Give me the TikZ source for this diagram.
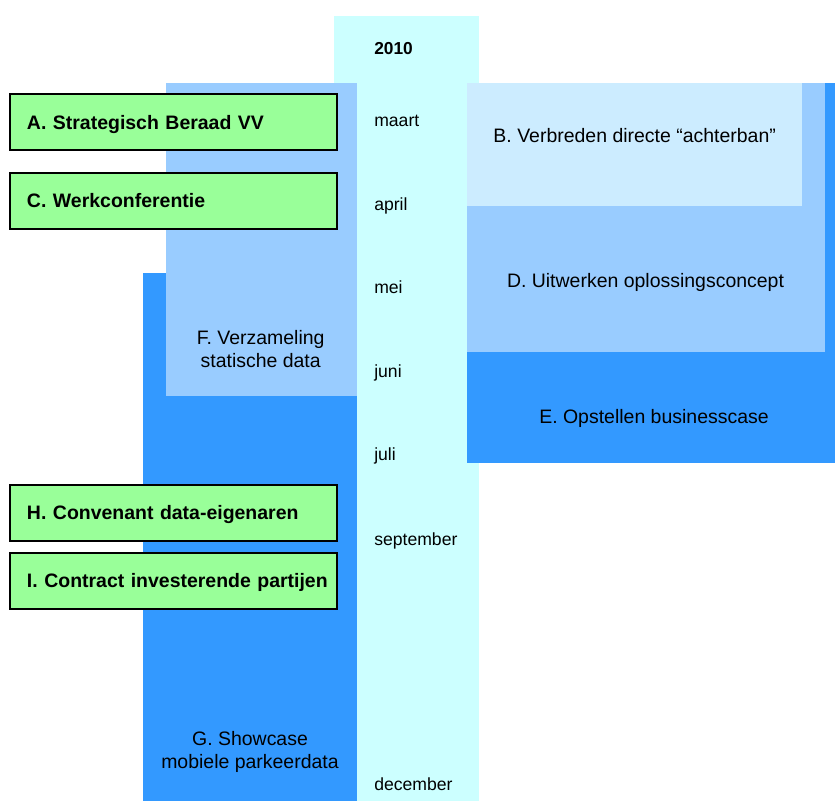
\documentclass[tikz,border=0pt]{standalone}
\usepackage{fontspec}
\setmainfont{Liberation Sans}

\definecolor{tijdlijn}{HTML}{CCFFFF}
\definecolor{lichtblauw}{HTML}{CCECFF}
\definecolor{middenblauw}{HTML}{99CCFF}
\definecolor{donkerblauw}{HTML}{3399FF}
\definecolor{groen}{HTML}{99FF99}

\tikzset{
  maand/.style={anchor=base west, inner sep=0pt, font=\fontsize{13.2}{15}\selectfont},
  fase/.style={align=center, inner sep=0pt, font=\fontsize{14.6}{16.7}\selectfont},
  besluit/.style={draw=black, line width=1.5pt, fill=groen, anchor=west,
    text width=245.25pt, inner xsep=0pt, align=left, minimum height=42pt,
    text height=10.5pt, text depth=0pt, font=\bfseries\fontsize{14.6}{16}\selectfont,
    execute at begin node={\hspace*{12.75pt}}}
}

\begin{document}
\begin{tikzpicture}[x=0.75pt,y=-0.75pt]
        % Paso 1: Fija el marco de la figura
        \useasboundingbox (0,0) rectangle (835,801);

        % Paso 2: Dibuja la columna del calendario
        \fill[tijdlijn] (334,16) rectangle (479,801);

        % Paso 3: Rellena los bloques de la derecha (E, D, B)
        \fill[donkerblauw] (467,83) rectangle (835,463);
        \fill[middenblauw] (467,83) rectangle (825,352);
        \fill[lichtblauw] (467,83) rectangle (802,206);

        % Paso 4: Rellena los bloques de la izquierda (G, F)
        \fill[donkerblauw] (143,273) rectangle (357,801);
        \fill[middenblauw] (166,83) rectangle (357,396);

        % Paso 5: Coloca el año y los meses
        \node[maand, font=\bfseries\fontsize{13}{15}\selectfont] (jaar) at (374,54) {2010};
        \node[maand] (maart) at (374,126.5) {maart};
        \node[maand] (april) at (374,210) {april};
        \node[maand] (mei) at (374,293.5) {mei};
        \node[maand] (juni) at (374,377) {juni};
        \node[maand] (juli) at (374,460.5) {juli};
        \node[maand] (september) at (374,545) {september};
        \node[maand] (december) at (374,790) {december};

        % Paso 6: Escribe los textos de las fases
        \node[fase, anchor=base] (B) at (634.7,142.7) {B. Verbreden directe “achterban”};
        \node[fase, anchor=base] (D) at (645.5,287.3) {D. Uitwerken oplossingsconcept};
        \node[fase, anchor=base] (E) at (654,423.3) {E. Opstellen businesscase};
        \node[fase] (F) at (260.7,349) {F. Verzameling\\statische data};
        \node[fase] (G) at (250,752) {G. Showcase\\mobiele parkeerdata};

        % Paso 7: Dibuja los recuadros verdes de decisión
        \node[besluit] (A) at (9,122) {A. Strategisch Beraad VV};
        \node[besluit] (C) at (9,200.5) {C. Werkconferentie};
        \node[besluit] (H) at (9,512.5) {H. Convenant data-eigenaren};
        \node[besluit] (I) at (9,580.5) {I. Contract investerende partijen};
    \end{tikzpicture}
\end{document}
